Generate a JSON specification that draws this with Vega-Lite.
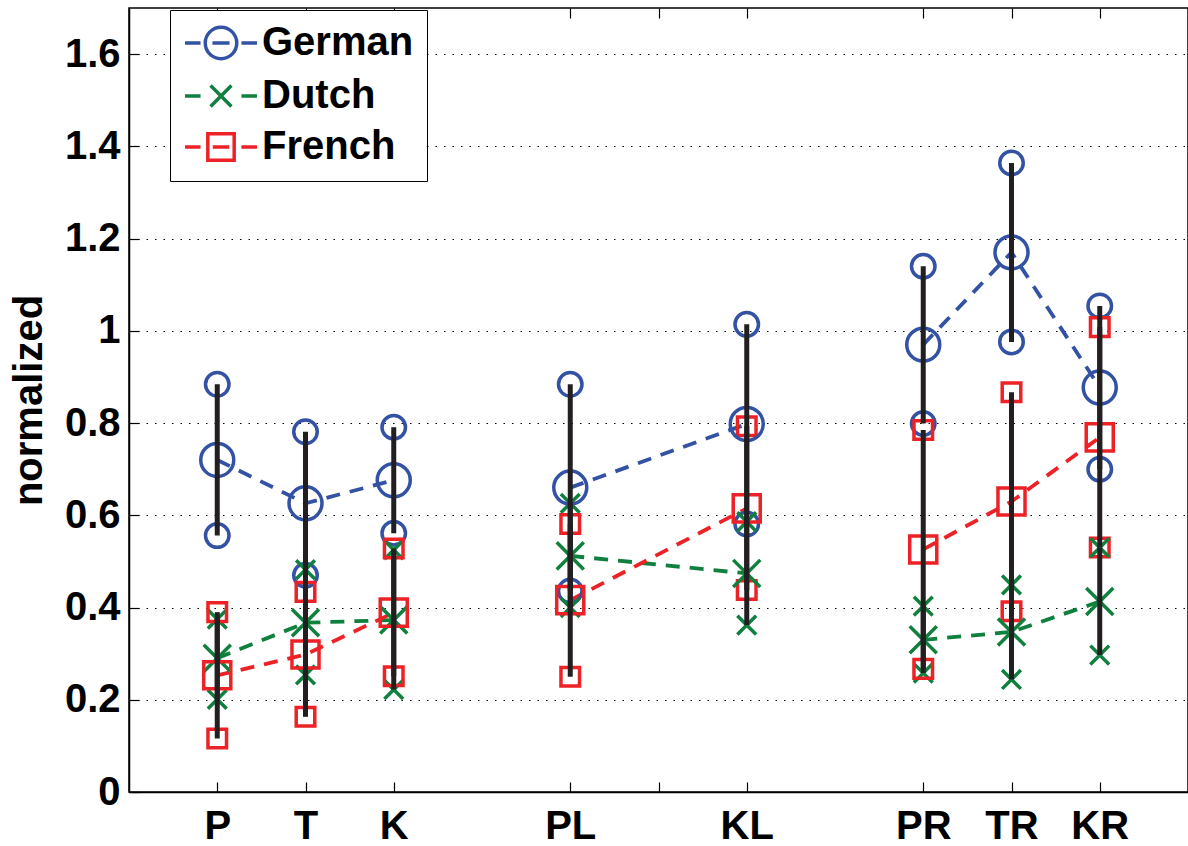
{
  "$schema": "https://vega.github.io/schema/vega-lite/v6.json",
  "width": 1059,
  "height": 784,
  "autosize": {"type": "none"},
  "padding": {"left": 129, "top": 8, "right": 0, "bottom": 54},
  "background": "white",
  "config": {
    "view": {"stroke": "black", "strokeWidth": 1.5},
    "axis": {
      "labelFont": "Liberation Sans",
      "labelFontWeight": "bold",
      "labelFontSize": 40,
      "labelColor": "black",
      "titleFont": "Liberation Sans",
      "titleFontWeight": "bold",
      "titleFontSize": 40,
      "titleColor": "black",
      "domainColor": "black",
      "domainWidth": 1.5,
      "tickColor": "black",
      "tickWidth": 1.2,
      "tickSize": -10,
      "grid": false
    },
    "legend": {
      "symbolStrokeWidth": 3.5,
      "symbolSize": 841,
      "labelFont": "Liberation Sans",
      "labelFontWeight": "bold",
      "labelFontSize": 40,
      "labelColor": "black",
      "strokeColor": "black",
      "fillColor": "white",
      "padding": 13,
      "rowPadding": 10,
      "symbolOffset": 18,
      "labelOffset": 21
    }
  },
  "data": {
    "values": [
      {"pos": 1, "cat": "P", "grp": 1, "lang": "German", "mean": 0.720, "lo": 0.556, "hi": 0.884},
      {"pos": 1, "cat": "P", "grp": 1, "lang": "Dutch", "mean": 0.290, "lo": 0.201, "hi": 0.375},
      {"pos": 1, "cat": "P", "grp": 1, "lang": "French", "mean": 0.253, "lo": 0.116, "hi": 0.390},
      {"pos": 2, "cat": "T", "grp": 1, "lang": "German", "mean": 0.626, "lo": 0.470, "hi": 0.781},
      {"pos": 2, "cat": "T", "grp": 1, "lang": "Dutch", "mean": 0.367, "lo": 0.254, "hi": 0.482},
      {"pos": 2, "cat": "T", "grp": 1, "lang": "French", "mean": 0.298, "lo": 0.163, "hi": 0.434},
      {"pos": 3, "cat": "K", "grp": 1, "lang": "German", "mean": 0.676, "lo": 0.561, "hi": 0.791},
      {"pos": 3, "cat": "K", "grp": 1, "lang": "Dutch", "mean": 0.373, "lo": 0.222, "hi": 0.525},
      {"pos": 3, "cat": "K", "grp": 1, "lang": "French", "mean": 0.389, "lo": 0.251, "hi": 0.528},
      {"pos": 5, "cat": "PL", "grp": 2, "lang": "German", "mean": 0.660, "lo": 0.436, "hi": 0.884},
      {"pos": 5, "cat": "PL", "grp": 2, "lang": "Dutch", "mean": 0.512, "lo": 0.400, "hi": 0.626},
      {"pos": 5, "cat": "PL", "grp": 2, "lang": "French", "mean": 0.416, "lo": 0.250, "hi": 0.581},
      {"pos": 7, "cat": "KL", "grp": 2, "lang": "German", "mean": 0.798, "lo": 0.581, "hi": 1.014},
      {"pos": 7, "cat": "KL", "grp": 2, "lang": "Dutch", "mean": 0.474, "lo": 0.362, "hi": 0.586},
      {"pos": 7, "cat": "KL", "grp": 2, "lang": "French", "mean": 0.615, "lo": 0.438, "hi": 0.793},
      {"pos": 9, "cat": "PR", "grp": 3, "lang": "German", "mean": 0.970, "lo": 0.799, "hi": 1.140},
      {"pos": 9, "cat": "PR", "grp": 3, "lang": "Dutch", "mean": 0.330, "lo": 0.258, "hi": 0.403},
      {"pos": 9, "cat": "PR", "grp": 3, "lang": "French", "mean": 0.526, "lo": 0.267, "hi": 0.785},
      {"pos": 10, "cat": "TR", "grp": 3, "lang": "German", "mean": 1.170, "lo": 0.976, "hi": 1.364},
      {"pos": 10, "cat": "TR", "grp": 3, "lang": "Dutch", "mean": 0.347, "lo": 0.244, "hi": 0.449},
      {"pos": 10, "cat": "TR", "grp": 3, "lang": "French", "mean": 0.630, "lo": 0.392, "hi": 0.867},
      {"pos": 11, "cat": "KR", "grp": 3, "lang": "German", "mean": 0.877, "lo": 0.700, "hi": 1.054},
      {"pos": 11, "cat": "KR", "grp": 3, "lang": "Dutch", "mean": 0.413, "lo": 0.297, "hi": 0.530},
      {"pos": 11, "cat": "KR", "grp": 3, "lang": "French", "mean": 0.769, "lo": 0.530, "hi": 1.008}
    ]
  },
  "layer": [
    {
      "mark": {"type": "line", "strokeWidth": 3.8, "strokeDash": [14, 10]},
      "encoding": {
        "x": {"field": "pos", "type": "quantitative", "scale": {"domain": [0, 12], "nice": false, "zero": false}, "axis": {
          "orient": "bottom", "values": [1, 2, 3, 5, 6, 7, 9, 10, 11], "title": null,
          "labelExpr": "datum.value == 1 ? 'P' : datum.value == 2 ? 'T' : datum.value == 3 ? 'K' : datum.value == 5 ? 'PL' : datum.value == 7 ? 'KL' : datum.value == 9 ? 'PR' : datum.value == 10 ? 'TR' : datum.value == 11 ? 'KR' : ''",
          "labelPadding": 24
        }},
        "y": {"field": "mean", "type": "quantitative", "scale": {"domain": [0, 1.7], "nice": false}, "axis": {
          "values": [0, 0.2, 0.4, 0.6, 0.8, 1, 1.2, 1.4, 1.6], "format": "~g",
          "title": "normalized", "grid": true, "gridColor": "black", "gridDash": [1.5, 7], "gridWidth": 1.2,
          "labelPadding": 19, "titlePadding": 15
        }},
        "color": {"field": "lang", "type": "nominal", "legend": null,
          "scale": {"domain": ["German", "Dutch", "French"], "range": ["#3352a4", "#10803f", "#ec2227"]}},
        "detail": {"field": "grp", "type": "nominal"}
      }
    },
    {
      "mark": {"type": "point", "filled": false, "strokeWidth": 3.5, "size": 552, "opacity": 1},
      "encoding": {
        "x": {"field": "pos", "type": "quantitative", "axis": {
          "orient": "top", "values": [1, 2, 3, 5, 6, 7, 9, 10, 11], "title": null, "labels": false, "domain": false
        }},
        "y": {"field": "lo", "type": "quantitative", "axis": null},
        "color": {"field": "lang", "type": "nominal", "legend": null,
          "scale": {"domain": ["German", "Dutch", "French"], "range": ["#3352a4", "#10803f", "#ec2227"]}},
        "shape": {"field": "lang", "type": "nominal", "legend": null,
          "scale": {"domain": ["German", "Dutch", "French"], "range": [
            "M-1,0A1,1,0,1,0,1,0A1,1,0,1,0,-1,0",
            "M-0.8,-0.8L0.8,0.8M0.8,-0.8L-0.8,0.8",
            "M-0.79,-0.79H0.79V0.79H-0.79Z"]}}
      }
    },
    {
      "mark": {"type": "point", "filled": false, "strokeWidth": 3.5, "size": 552, "opacity": 1},
      "encoding": {
        "x": {"field": "pos", "type": "quantitative", "axis": null},
        "y": {"field": "hi", "type": "quantitative", "axis": null},
        "color": {"field": "lang", "type": "nominal", "legend": null,
          "scale": {"domain": ["German", "Dutch", "French"], "range": ["#3352a4", "#10803f", "#ec2227"]}},
        "shape": {"field": "lang", "type": "nominal", "legend": null,
          "scale": {"domain": ["German", "Dutch", "French"], "range": [
            "M-1,0A1,1,0,1,0,1,0A1,1,0,1,0,-1,0",
            "M-0.8,-0.8L0.8,0.8M0.8,-0.8L-0.8,0.8",
            "M-0.79,-0.79H0.79V0.79H-0.79Z"]}}
      }
    },
    {
      "mark": {"type": "point", "filled": false, "strokeWidth": 3.5, "size": 1089, "opacity": 1},
      "encoding": {
        "x": {"field": "pos", "type": "quantitative", "axis": null},
        "y": {"field": "mean", "type": "quantitative", "axis": null},
        "color": {"field": "lang", "type": "nominal", "legend": null,
          "scale": {"domain": ["German", "Dutch", "French"], "range": ["#3352a4", "#10803f", "#ec2227"]}},
        "shape": {"field": "lang", "type": "nominal", "legend": null,
          "scale": {"domain": ["German", "Dutch", "French"], "range": [
            "M-1,0A1,1,0,1,0,1,0A1,1,0,1,0,-1,0",
            "M-0.82,-0.82L0.82,0.82M0.82,-0.82L-0.82,0.82",
            "M-0.82,-0.82H0.82V0.82H-0.82Z"]}}
      }
    },
    {
      "mark": {"type": "rule", "color": "#231f20", "strokeWidth": 5},
      "encoding": {
        "x": {"field": "pos", "type": "quantitative", "axis": null},
        "y": {"field": "lo", "type": "quantitative", "axis": null},
        "y2": {"field": "hi"}
      }
    },
    {
      "mark": {"type": "point", "filled": false, "opacity": 0},
      "encoding": {
        "x": {"field": "pos", "type": "quantitative", "axis": null},
        "y": {"field": "mean", "type": "quantitative", "axis": null},
        "color": {"field": "lang", "type": "nominal",
          "scale": {"domain": ["German", "Dutch", "French"], "range": ["#3352a4", "#10803f", "#ec2227"]},
          "legend": {"title": null, "orient": "none", "legendX": 41, "legendY": 2}},
        "shape": {"field": "lang", "type": "nominal",
          "scale": {"domain": ["German", "Dutch", "French"], "range": [
            "M-2.48,0H-1.41M-1.086,0A1.086,1.086,0,1,0,1.086,0A1.086,1.086,0,1,0,-1.086,0M-0.59,0H0.59M1.41,0H2.48",
            "M-2.48,0H-1.41M-0.72,-0.72L0.72,0.72M0.72,-0.72L-0.72,0.72M1.41,0H2.48",
            "M-2.48,0H-1.41M-0.91,-0.91H0.91V0.91H-0.91ZM-0.57,0H0.57M1.41,0H2.48"]},
          "legend": {"title": null, "orient": "none", "legendX": 41, "legendY": 2}}
      }
    }
  ],
  "resolve": {"scale": {"shape": "independent", "color": "independent"}, "axis": {"x": "independent", "y": "independent"}}
}
